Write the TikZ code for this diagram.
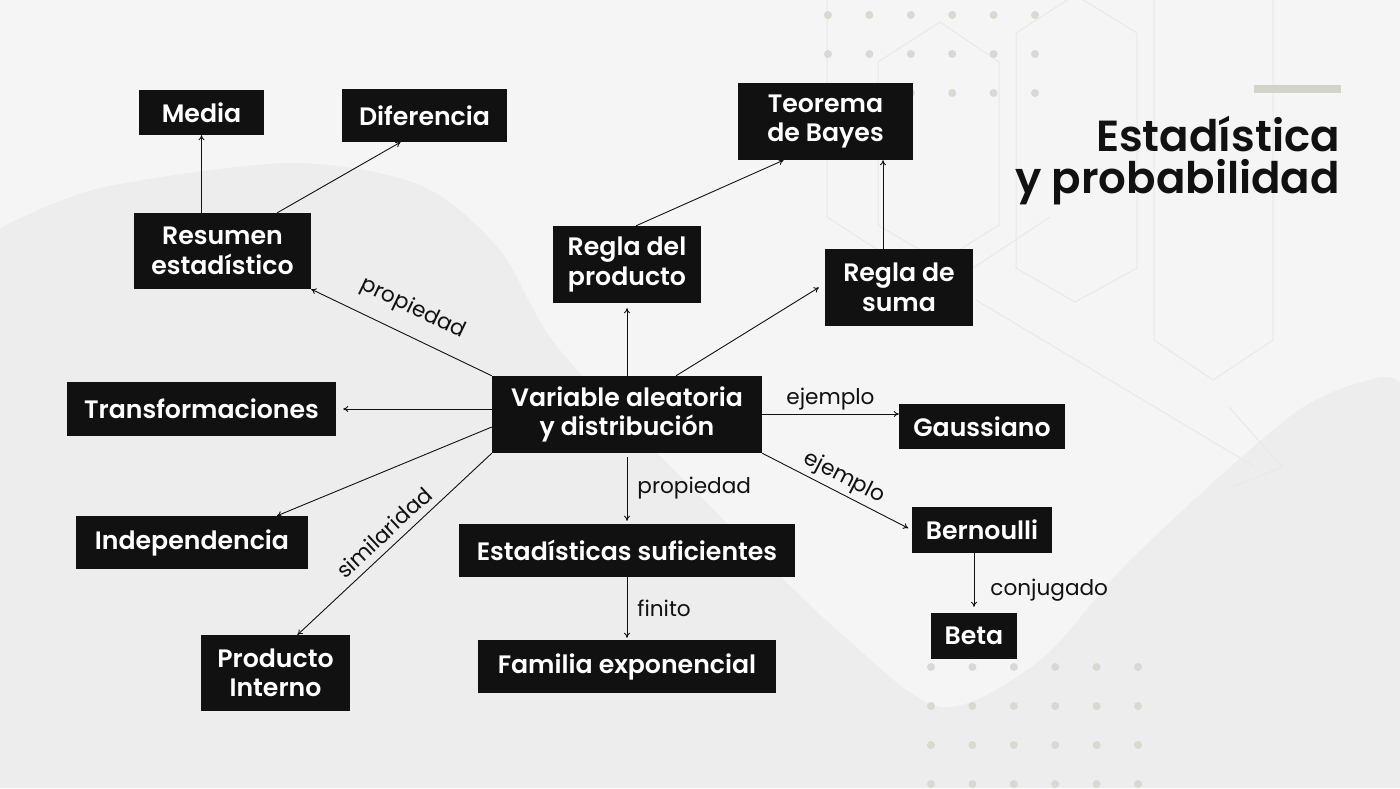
\documentclass[tikz,border=0pt]{standalone}
\usepackage{fontspec}
\setmainfont{Poppins}
\newfontfamily\boxfont{Poppins SemiBold}
\usetikzlibrary{arrows.meta}
\definecolor{bgdark}{HTML}{EDEDED}
\definecolor{bglight}{HTML}{F5F5F5}
\definecolor{deco}{HTML}{E8E8E8}
\definecolor{dotgray}{HTML}{D8D9D0}
\definecolor{barcol}{HTML}{D2D4CA}
\definecolor{ink}{HTML}{111111}
\tikzstyle{box}=[fill=ink, text=white, font=\boxfont\fontsize{25.2}{29.5}\selectfont, align=center, inner sep=0pt]
\tikzstyle{arr}=[draw=ink, line width=0.9pt, -{To[length=5pt,width=6pt]}]
\tikzstyle{lbl}=[font=\fontsize{21.6}{25}\selectfont, text=ink, inner sep=3pt]

\begin{document}
\begin{tikzpicture}[x=1pt, y=-1pt]
% Background
    \useasboundingbox (0,0) rectangle (1400,788);
    \fill[bgdark] (0,0) rectangle (1400,788);
    \fill[bglight] (0,0) -- plot[smooth] coordinates {(0,228) (100,188) (290,163) (420,185) (500,250) (560,350) (720,516) (846,638) (942,707) (1040,660) (1133,557) (1293,414) (1376,378) (1400,382)} -- (1400,0) -- cycle;
    \draw[deco, line width=1pt] (878,225) -- (878,62) -- (940,22) -- (999,62) -- (999,225) -- (940,262) -- cycle;
    \draw[deco, line width=1pt] (827,0) -- (827,217) -- (940,290) -- (1050,217);
    \draw[deco, line width=1pt] (1016,268) -- (1016,33) -- (1075,-5) -- (1137,33) -- (1137,268) -- (1075,302) -- cycle;
    \draw[deco, line width=1pt] (1154,0) -- (1154,340) -- (1213,380) -- (1273,340) -- (1273,0);
    \draw[deco, line width=1pt] (976,300) -- (1255,467);
    \draw[deco, line width=1pt] (1229,407) -- (1282,467) -- (1232,487);
    \fill[barcol] (1254,85) rectangle (1341,93);
% Dots
    \foreach \i in {0,...,5}
        \foreach \j in {0,1,2}
            \fill[dotgray] (828+41.4*\i,15+39*\j) circle (4);
    \foreach \i in {0,...,5}
        \foreach \j in {0,...,3}
            \fill[dotgray] (931+41.4*\i,667+39*\j) circle (4);
% Title
    \node[anchor=north east, align=right, text=ink, inner sep=0pt,
        font=\boxfont\fontsize{43.5}{42}\selectfont] (title) at (1340,116) {Estadística\\y probabilidad};
% Boxes
    \node[box, minimum width=125, minimum height=45] (med) at (201.5,112.5) {Media};
    \node[box, minimum width=165, minimum height=53] (dif) at (424.5,115.5) {Diferencia};
    \node[box, minimum width=177, minimum height=76] (res) at (222.5,251) {Resumen\\estadístico};
    \node[box, minimum width=175, minimum height=77] (bay) at (825.5,121.5) {Teorema\\de Bayes};
    \node[box, minimum width=148, minimum height=77] (prod) at (627,264.5) {Regla del\\producto};
    \node[box, minimum width=148, minimum height=77] (suma) at (899,287.5) {Regla de\\suma};
    \node[box, minimum width=270, minimum height=77] (var) at (627,414.5) {Variable aleatoria\\y distribución};
    \node[box, minimum width=269, minimum height=54] (tra) at (201.5,409) {Transformaciones};
    \node[box, minimum width=232, minimum height=53] (ind) at (192,542.5) {Independencia};
    \node[box, minimum width=149, minimum height=76] (pint) at (275.5,673) {Producto\\Interno};
    \node[box, minimum width=336, minimum height=53] (est) at (627,550.5) {Estadísticas suficientes};
    \node[box, minimum width=298, minimum height=53] (fam) at (627,666.5) {Familia exponencial};
    \node[box, minimum width=166, minimum height=45] (gau) at (982,426.5) {Gaussiano};
    \node[box, minimum width=140, minimum height=46] (ber) at (982,530) {Bernoulli};
    \node[box, minimum width=86, minimum height=46] (beta) at (974,636) {Beta};
    \coordinate (sumtop) at ([xshift=-16]suma.north);
% Arrows
    \draw[arr] (res.north -| med.south) -- (med.south);
    \draw[arr] ([xshift=-34]res.north east) -- ([xshift=-24]dif.south);
    \draw[arr] (var.north west) -- node[lbl, sloped, above=12pt] {propiedad} (res.south east);
    \draw[arr, shorten >=5pt] (var.north) -- (prod.south);
    \draw[arr] ([xshift=49]var.north) -- ([xshift=-6]suma.west);
    \draw[arr] ([xshift=9]prod.north) -- ([xshift=-42]bay.south);
    \draw[arr] (sumtop) -- (sumtop |- bay.south);
    \draw[arr, shorten >=7pt] (var.west |- tra) -- (tra.east);
    \draw[arr] ([yshift=-12.5]var.west) -- ([xshift=85]ind.north);
    \draw[arr] (var.south west) -- node[lbl, sloped, above=4pt] {similaridad} ([xshift=22]pint.north);
    \draw[arr] (var.east |- 0,414) -- node[lbl, above=0pt] {ejemplo} (gau.west |- 0,414);
    \draw[arr, shorten >=4pt] (var.south east) -- node[lbl, sloped, above=1pt] {ejemplo} (ber.west);
    \draw[arr, shorten <=4pt, shorten >=3pt] (var.south) -- node[lbl, right=7pt] {propiedad} (est.north);
    \draw[arr, shorten >=2pt] (est.south) -- node[lbl, right=7pt] {finito} (fam.north);
    \draw[arr, shorten >=6pt] (ber.south -| beta) -- node[lbl, right=13pt, yshift=-7pt] {conjugado} (beta.north);
\end{tikzpicture}
\end{document}
